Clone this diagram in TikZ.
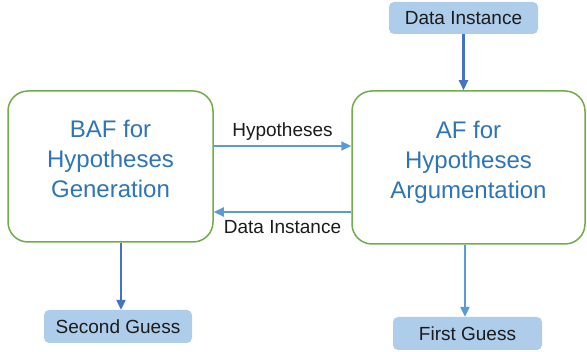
\documentclass[tikz,border=0pt]{standalone}
\usepackage{fontspec}
\setmainfont{Liberation Sans}
\usepackage{tikz}
\usetikzlibrary{positioning,arrows.meta}
\definecolor{cGreen}{HTML}{70AD47}
\definecolor{cText}{HTML}{2E75B6}
\definecolor{cDark}{HTML}{4472C4}
\definecolor{cLight}{HTML}{5B9BD5}
\definecolor{cFill}{HTML}{AECDEB}
\definecolor{cInk}{HTML}{1B1B1B}
\tikzset{
  fw/.style={draw=cGreen, line width=1.5pt, rounded corners=20pt, fill=white,
             align=center, text=cText, text depth=15pt,
             font=\fontsize{24}{30}\selectfont},
  io/.style={fill=cFill, rounded corners=5pt, text=cInk, inner sep=0pt,
             font=\fontsize{19}{22}\selectfont},
  arD/.style={-{Triangle[length=10pt,width=9pt]}, cDark, line width=2.2pt},
  arL/.style={-{Triangle[length=10pt,width=9pt]}, cLight, line width=2.2pt},
  lbl/.style={font=\fontsize{19}{22}\selectfont, text=cInk}
}
\begin{document}
\begin{tikzpicture}[x=1pt, y=-1pt]
\useasboundingbox (0,0) rectangle (587,352);
% the two frameworks
\node[fw, minimum width=205pt, minimum height=151pt] (baf) at (110.5,166.5)
  {BAF for\\Hypotheses\\Generation};
\node[fw, minimum width=233pt, minimum height=153pt] (af) at (468.5,167.5)
  {AF for\\Hypotheses\\Argumentation};
% inputs and outputs
\node[io, minimum width=149pt, minimum height=32pt] (di) at (463.5,18) {Data Instance};
\node[io, minimum width=148pt, minimum height=33pt] (sg) at (118,326.5) {Second Guess};
\node[io, minimum width=149pt, minimum height=33pt] (fg) at (467.5,333.5) {First Guess};
% connectors
\draw[arD] (di.south) -- (di.south |- af.north);
\draw[arL] (baf.east |- 0,146) -- (af.west |- 0,146)
  node[lbl, midway, above=1pt] {Hypotheses};
\draw[arL] (af.west |- 0,212) -- (baf.east |- 0,212)
  node[lbl, midway, below=4pt] {Data Instance};
\draw[arD] ([xshift=3pt]sg.north |- baf.south) -- ([xshift=3pt]sg.north);
\draw[arL] ([xshift=-2.5pt]fg.north |- af.south) -- ([xshift=-2.5pt]fg.north);
\end{tikzpicture}
\end{document}
